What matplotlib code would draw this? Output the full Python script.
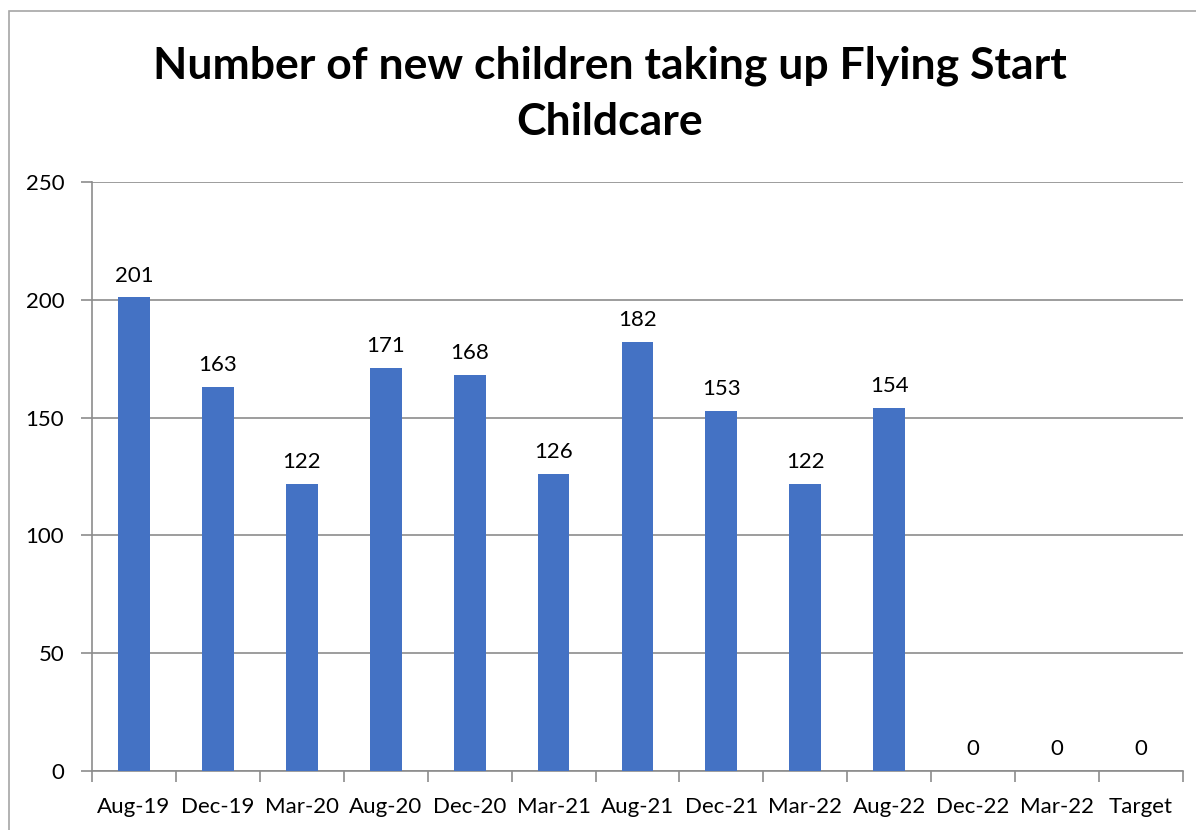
import matplotlib.pyplot as plt
from matplotlib.patches import Rectangle

# Dados do gráfico
categorias = ["Aug-19", "Dec-19", "Mar-20", "Aug-20", "Dec-20", "Mar-21", "Aug-21",
              "Dec-21", "Mar-22", "Aug-22", "Dec-22", "Mar-22", "Target"]
valores = [201, 163, 122, 171, 168, 126, 182, 153, 122, 154, 0, 0, 0]
ticks_y = [0, 50, 100, 150, 200, 250]

plt.rcParams['font.family'] = ['Lato', 'DejaVu Sans']

fig = plt.figure(figsize=(11.96, 8.3), dpi=100)
ax = fig.add_axes([0.0769, 0.0711, 0.9122, 0.7096])

# Moldura do gráfico
fig.patches.append(Rectangle((9 / 1196, -0.5), 2, 1.5 - 11 / 830, transform=fig.transFigure,
                             fill=False, edgecolor='#a6a6a6', linewidth=1.2))

posicoes = range(len(categorias))
barras = ax.bar(posicoes, valores, width=0.38, color='#4472C4', zorder=3)
for x, v in zip(posicoes, valores):
    ax.text(x, v + 5, str(v), ha='center', va='bottom', fontsize=16)

ax.set_xlim(-0.5, len(categorias) - 0.5)
ax.set_ylim(0, 250)
ax.set_yticks(ticks_y)
ax.set_yticklabels([str(t) for t in ticks_y], fontsize=16)
ax.yaxis.grid(True, color='#8c8c8c', linewidth=1.2, zorder=0)

ax.set_xticks([i - 0.5 for i in range(len(categorias) + 1)])
ax.set_xticklabels([])
ax.set_xticks(list(posicoes), minor=True)
ax.set_xticklabels(categorias, minor=True, fontsize=16)
ax.tick_params(axis='x', which='minor', length=0, pad=19)
ax.tick_params(axis='x', which='major', length=8, color='#8c8c8c', width=1.2)
ax.tick_params(axis='y', length=8, color='#8c8c8c', width=1.2, pad=12)

for lado in ['top', 'right']:
    ax.spines[lado].set_visible(False)
for lado in ['left', 'bottom']:
    ax.spines[lado].set_color('#8c8c8c')
    ax.spines[lado].set_linewidth(1.2)

fig.text(0.51, 0.887, "Number of new children taking up Flying Start\nChildcare",
         ha='center', va='center', fontsize=32, fontweight='bold', linespacing=1.5)

fig.savefig("out.png")
